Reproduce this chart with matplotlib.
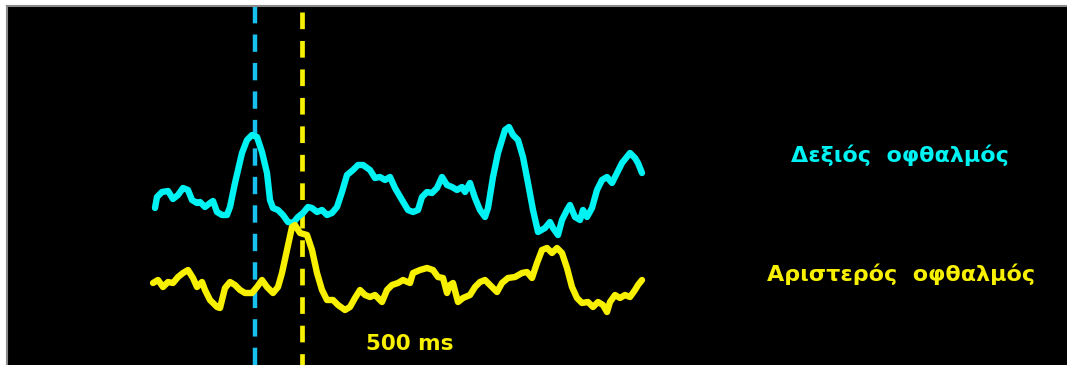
import matplotlib
matplotlib.use("Agg")
import matplotlib.pyplot as plt

# right eye trace (sample position, vertical position; screen units, y grows downward)
right_x = [155, 157, 162, 168, 173, 178, 183, 188, 192, 197, 200, 205, 210, 213, 217,
           222, 227, 230, 235, 242, 247, 252, 257, 262, 267, 270, 273, 278, 283, 288,
           293, 298, 303, 308, 312, 317, 322, 327, 332, 337, 342, 347, 353, 358, 363,
           370, 375, 380, 385, 390, 395, 402, 408, 413, 418, 422, 427, 432, 437, 442,
           447, 452, 457, 462, 465, 470, 475, 480, 485, 488, 493, 498, 505, 509, 513,
           518, 523, 528, 533, 538, 545, 550, 553, 558, 562, 567, 570, 575, 580, 583,
           587, 592, 597, 602, 607, 612, 617, 622, 630, 635, 638, 642]
right_y = [208, 197, 192, 191, 199, 195, 188, 190, 200, 203, 202, 207, 203, 201, 212,
           215, 215, 207, 183, 153, 140, 135, 137, 152, 173, 200, 208, 210, 215, 222,
           223, 217, 213, 207, 208, 212, 210, 215, 213, 207, 192, 175, 170, 165, 165,
           170, 178, 177, 180, 177, 188, 200, 210, 212, 210, 197, 192, 193, 188, 177,
           185, 187, 190, 187, 192, 183, 198, 210, 217, 208, 177, 153, 130, 127, 135,
           140, 157, 183, 210, 232, 228, 222, 228, 235, 220, 210, 205, 217, 220, 210,
           217, 208, 190, 180, 177, 183, 173, 163, 153, 158, 163, 173]

# left eye trace
left_x = [153, 158, 163, 168, 173, 178, 183, 188, 193, 197, 202, 205, 210, 217, 220,
          225, 230, 235, 240, 245, 252, 257, 262, 267, 273, 278, 282, 287, 292, 295,
          300, 307, 312, 317, 322, 327, 333, 338, 345, 350, 355, 360, 365, 370, 375,
          382, 387, 392, 398, 403, 410, 413, 420, 427, 433, 438, 443, 447, 450, 453,
          458, 463, 470, 475, 480, 485, 490, 497, 502, 508, 515, 522, 527, 532, 537,
          542, 547, 552, 557, 562, 567, 572, 577, 582, 588, 593, 598, 603, 607, 610,
          615, 620, 625, 630, 635, 638, 642]
left_y = [283, 280, 287, 282, 283, 277, 273, 270, 278, 287, 282, 290, 300, 307, 308,
          288, 282, 285, 290, 293, 293, 287, 280, 287, 293, 287, 273, 250, 227, 225,
          233, 235, 250, 273, 290, 300, 300, 305, 310, 307, 298, 290, 295, 297, 295,
          302, 290, 285, 283, 280, 283, 273, 270, 268, 270, 277, 278, 293, 285, 283,
          302, 298, 295, 287, 282, 280, 285, 292, 283, 278, 277, 273, 272, 278, 263,
          250, 248, 253, 248, 253, 268, 287, 298, 303, 302, 307, 302, 305, 312, 302,
          295, 298, 295, 297, 290, 285, 280]

marker_right_x = 255
marker_left_x = 302

right_label = "Δεξιός  οφθαλμός"
left_label = "Αριστερός  οφθαλμός"
scale_label = "500 ms"

cyan = "#00F2F2"
yellow = "#F7F000"
blue = "#18C0EE"

plt.rcParams["lines.scale_dashes"] = False

fig = plt.figure(figsize=(10.67, 3.65), dpi=100, facecolor="white")
ax = fig.add_axes([7 / 1067, 0, 1060 / 1067, 359 / 365])
ax.set_facecolor("black")
ax.set_xlim(7, 1067)
ax.set_ylim(365, 6)
ax.set_xticks([])
ax.set_yticks([])
for side in ["right", "bottom"]:
    ax.spines[side].set_visible(False)
for side in ["top", "left"]:
    ax.spines[side].set_color("#8a8a8a")
    ax.spines[side].set_linewidth(1.5)

# stimulus markers
ax.plot([marker_right_x, marker_right_x], [6, 365], color=blue, lw=3.2,
        dashes=(12.5, 8), dash_capstyle="butt")
ax.plot([marker_left_x, marker_left_x], [12, 365], color=yellow, lw=3.4,
        dashes=(12, 8.5), dash_capstyle="butt")

# traces
ax.plot(right_x, right_y, color=cyan, lw=4.6, solid_joinstyle="round",
        solid_capstyle="round")
ax.plot(left_x, left_y, color=yellow, lw=4.6, solid_joinstyle="round",
        solid_capstyle="round")

ax.text(900, 155, right_label, color=cyan, fontsize=16, fontweight="bold",
        family="DejaVu Sans", ha="center", va="center")
ax.text(901, 274, left_label, color=yellow, fontsize=16, fontweight="bold",
        family="DejaVu Sans", ha="center", va="center")
ax.text(410, 344, scale_label, color=yellow, fontsize=15.5, fontweight="bold",
        family="DejaVu Sans", ha="center", va="center")

fig.savefig("out.png", dpi=100, facecolor="white")
